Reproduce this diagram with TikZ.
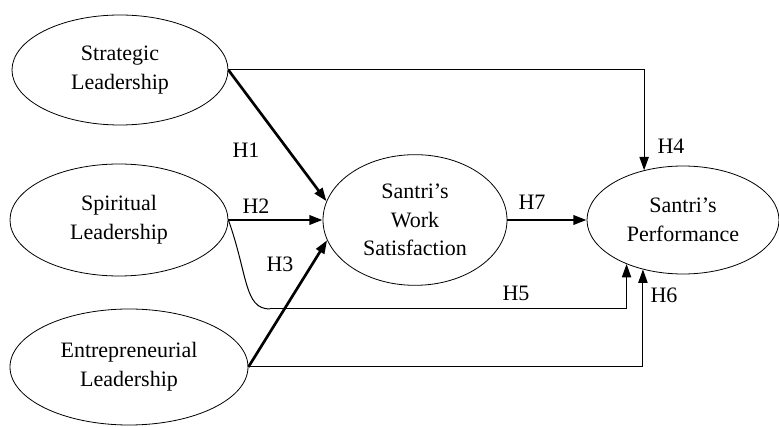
\documentclass[tikz,border=0pt]{standalone}
\usepackage{fontspec}
\setmainfont{Liberation Serif}
\usetikzlibrary{shapes.geometric,arrows.meta}
\begin{document}
\begin{tikzpicture}[x=0.75pt,y=-0.75pt,
  construct/.style={draw=black,line width=0.6pt,ellipse,inner sep=0pt,align=center,
    font=\fontsize{16.5}{21.5}\selectfont},
  thin/.style={line width=0.75pt,-{Triangle[length=10pt,width=7pt]}},
  thick/.style={line width=2pt,-{Triangle[length=10pt,width=7pt]}},
  plain/.style={line width=0.75pt},
  hlabel/.style={font=\fontsize{16.5}{19}\selectfont,inner sep=0pt}]
\useasboundingbox (0,0) rectangle (779,427);
\node[construct,minimum width=162pt,minimum height=82.5pt] (sl) at (120,70) {Strategic\\Leadership};
\node[construct,minimum width=163.5pt,minimum height=84pt] (spl) at (119,220) {Spiritual\\Leadership};
\node[construct,minimum width=178.5pt,minimum height=87pt] (el) at (129,367) {Entrepreneurial\\Leadership};
\node[construct,minimum width=138pt,minimum height=98pt] (ws) at (415,220) {Santri’s\\Work\\Satisfaction};
\node[construct,minimum width=144pt,minimum height=81pt] (perf) at (683,220) {Santri’s\\Performance};
\coordinate (h5c) at (270,309);
% connectors
\draw[thick] (sl.east) -- (ws.168);
\draw[thick] (spl.east) -- (ws.west);
\draw[thick] (el.east) -- (ws.193);
\draw[thick] (ws.east) -- (perf.west);
\draw[thin] (sl.east) -| (perf.128.5);
\draw[plain] (spl.east) .. controls (248,275) and (244,309) .. (h5c);
\draw[thin] (h5c) -| (perf.218.7);
\draw[thin] (el.east) -| (perf.231.5);
% labels
\node[hlabel] (l1) at (246,150) {H1};
\node[hlabel] (l2) at (256,206) {H2};
\node[hlabel] (l3) at (280,264) {H3};
\node[hlabel] (l4) at (671,146) {H4};
\node[hlabel] (l5) at (516,293) {H5};
\node[hlabel] (l6) at (664,295) {H6};
\node[hlabel] (l7) at (532,202) {H7};
\end{tikzpicture}
\end{document}
